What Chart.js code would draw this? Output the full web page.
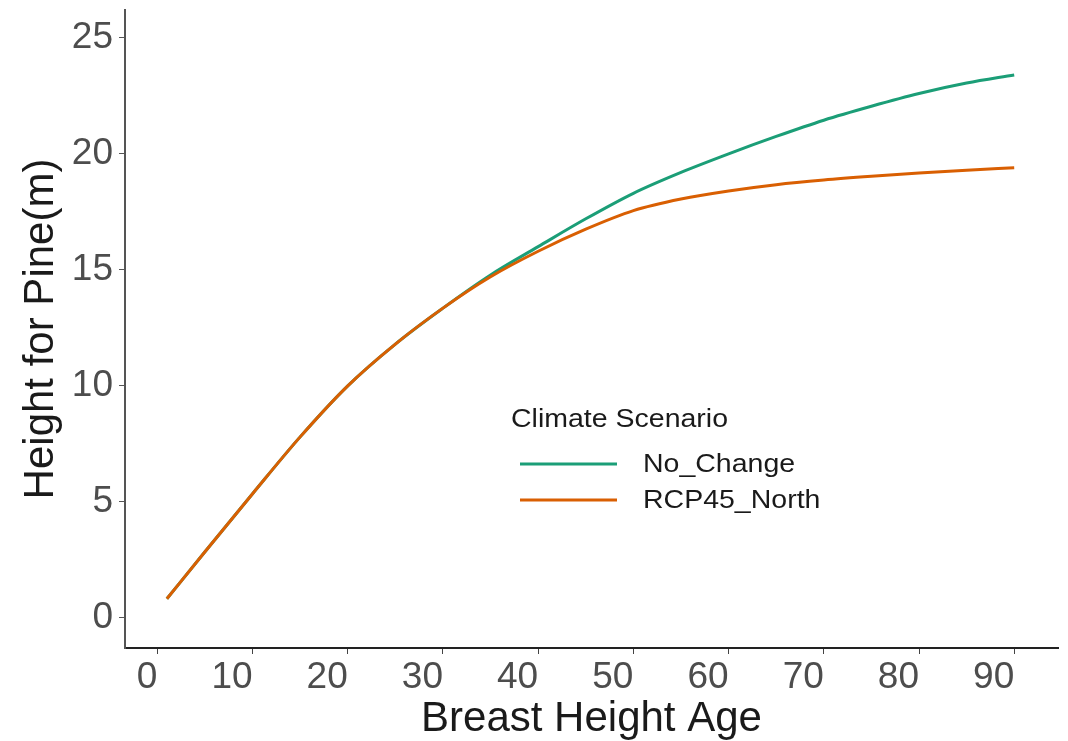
<!DOCTYPE html>
<html>
<head>
<meta charset="utf-8">
<script src="https://cdn.jsdelivr.net/npm/chart.js@4/dist/chart.umd.min.js"></script>
<style>
  html, body { margin: 0; padding: 0; background: #fff; }
  #wrap { width: 1068px; height: 741px; position: relative; }
</style>
</head>
<body>
<div id="wrap"><canvas id="chart"></canvas></div>
<script>
// breast height age (years)
const ages = [1, 5, 10, 15, 20, 25, 30, 35, 40, 45, 50, 55, 60, 65, 70, 75, 80, 85, 90];
// predicted height (m) per climate scenario
const noChange = [0.82, 2.85, 5.35, 7.8, 10.0, 11.8, 13.35, 14.78, 16.0, 17.2, 18.3, 19.2, 20.0, 20.75, 21.45, 22.05, 22.6, 23.05, 23.4];
const rcp45North = [0.82, 2.85, 5.35, 7.8, 10.0, 11.8, 13.35, 14.7, 15.8, 16.75, 17.55, 18.05, 18.4, 18.67, 18.87, 19.03, 19.17, 19.29, 19.4];

const xTicks = [0, 10, 20, 30, 40, 50, 60, 70, 80, 90];
const yTicks = [0, 5, 10, 15, 20, 25];

const legendTitle = 'Climate Scenario';
const seriesNames = ['No_Change', 'RCP45_North'];
const seriesColors = ['#1b9e77', '#d95f02'];

const FONT = '"Liberation Sans", Arial, sans-serif';

const toPoints = ys => ages.map((a, i) => ({ x: a, y: ys[i] }));

// legend drawn inside the plot area, text slightly widened
const insideLegend = {
  id: 'insideLegend',
  afterDatasetsDraw(chart) {
    const ctx = chart.ctx;
    const sx = 1.14;
    const text = (str, x, y) => {
      ctx.save();
      ctx.translate(x, y);
      ctx.scale(sx, 1);
      ctx.fillText(str, 0, 0);
      ctx.restore();
    };
    ctx.save();
    ctx.textBaseline = 'middle';
    ctx.textAlign = 'left';
    ctx.fillStyle = '#1a1a1a';
    ctx.font = '25px ' + FONT;
    text(legendTitle, 511, 420);
    const rows = [464, 500];
    chart.data.datasets.forEach((ds, i) => {
      ctx.strokeStyle = ds.borderColor;
      ctx.lineWidth = 3;
      ctx.beginPath();
      ctx.moveTo(520, rows[i]);
      ctx.lineTo(617, rows[i]);
      ctx.stroke();
      ctx.fillStyle = '#1a1a1a';
      text(ds.label, 643, rows[i] + 1);
    });
    ctx.restore();
  }
};

const chart = new Chart(document.getElementById('chart'), {
  type: 'line',
  data: {
    datasets: [
      {
        label: seriesNames[0],
        data: toPoints(noChange),
        borderColor: seriesColors[0],
        borderWidth: 3,
        pointRadius: 0,
        cubicInterpolationMode: 'monotone',
        order: 2,
      },
      {
        label: seriesNames[1],
        data: toPoints(rcp45North),
        borderColor: seriesColors[1],
        borderWidth: 3,
        pointRadius: 0,
        cubicInterpolationMode: 'monotone',
        order: 1,
      },
    ],
  },
  options: {
    responsive: true,
    maintainAspectRatio: false,
    animation: false,
    layout: { padding: { top: 10, right: 10, left: 0, bottom: 0 } },
    plugins: {
      legend: { display: false },
      tooltip: { enabled: false },
    },
    scales: {
      x: {
        type: 'linear',
        min: -3.4,
        max: 94.6,
        afterBuildTicks: s => { s.ticks = xTicks.map(v => ({ value: v })); },
        afterFit: s => { s.height = 93; s.paddingLeft = 0; s.paddingRight = 0; },
        border: { display: true, color: '#222', width: 2 },
        grid: { drawOnChartArea: false, drawTicks: true, tickLength: 6, tickColor: '#444', tickWidth: 1 },
        ticks: { align: 'end', padding: 2, color: '#4d4d4d', font: { family: FONT, size: 37 } },
        title: {
          display: true,
          text: 'Breast Height Age',
          color: '#1a1a1a',
          font: { family: FONT, size: 42, lineHeight: 1 },
          padding: { top: 0, bottom: 1 },
        },
      },
      y: {
        min: -1.3,
        max: 26.2,
        afterBuildTicks: s => { s.ticks = yTicks.map(v => ({ value: v })); },
        afterFit: s => { s.width = 125; s.paddingTop = 0; s.paddingBottom = 0; },
        border: { display: true, color: '#555', width: 2 },
        grid: { drawOnChartArea: false, drawTicks: true, tickLength: 6, tickColor: '#555', tickWidth: 1 },
        ticks: { padding: 6, color: '#4d4d4d', font: { family: FONT, size: 37 } },
        title: {
          display: true,
          text: 'Height for Pine(m)',
          color: '#1a1a1a',
          font: { family: FONT, size: 42, lineHeight: 1 },
          padding: { top: 20, bottom: 0 },
        },
      },
    },
  },
  plugins: [insideLegend],
});
</script>
</body>
</html>
